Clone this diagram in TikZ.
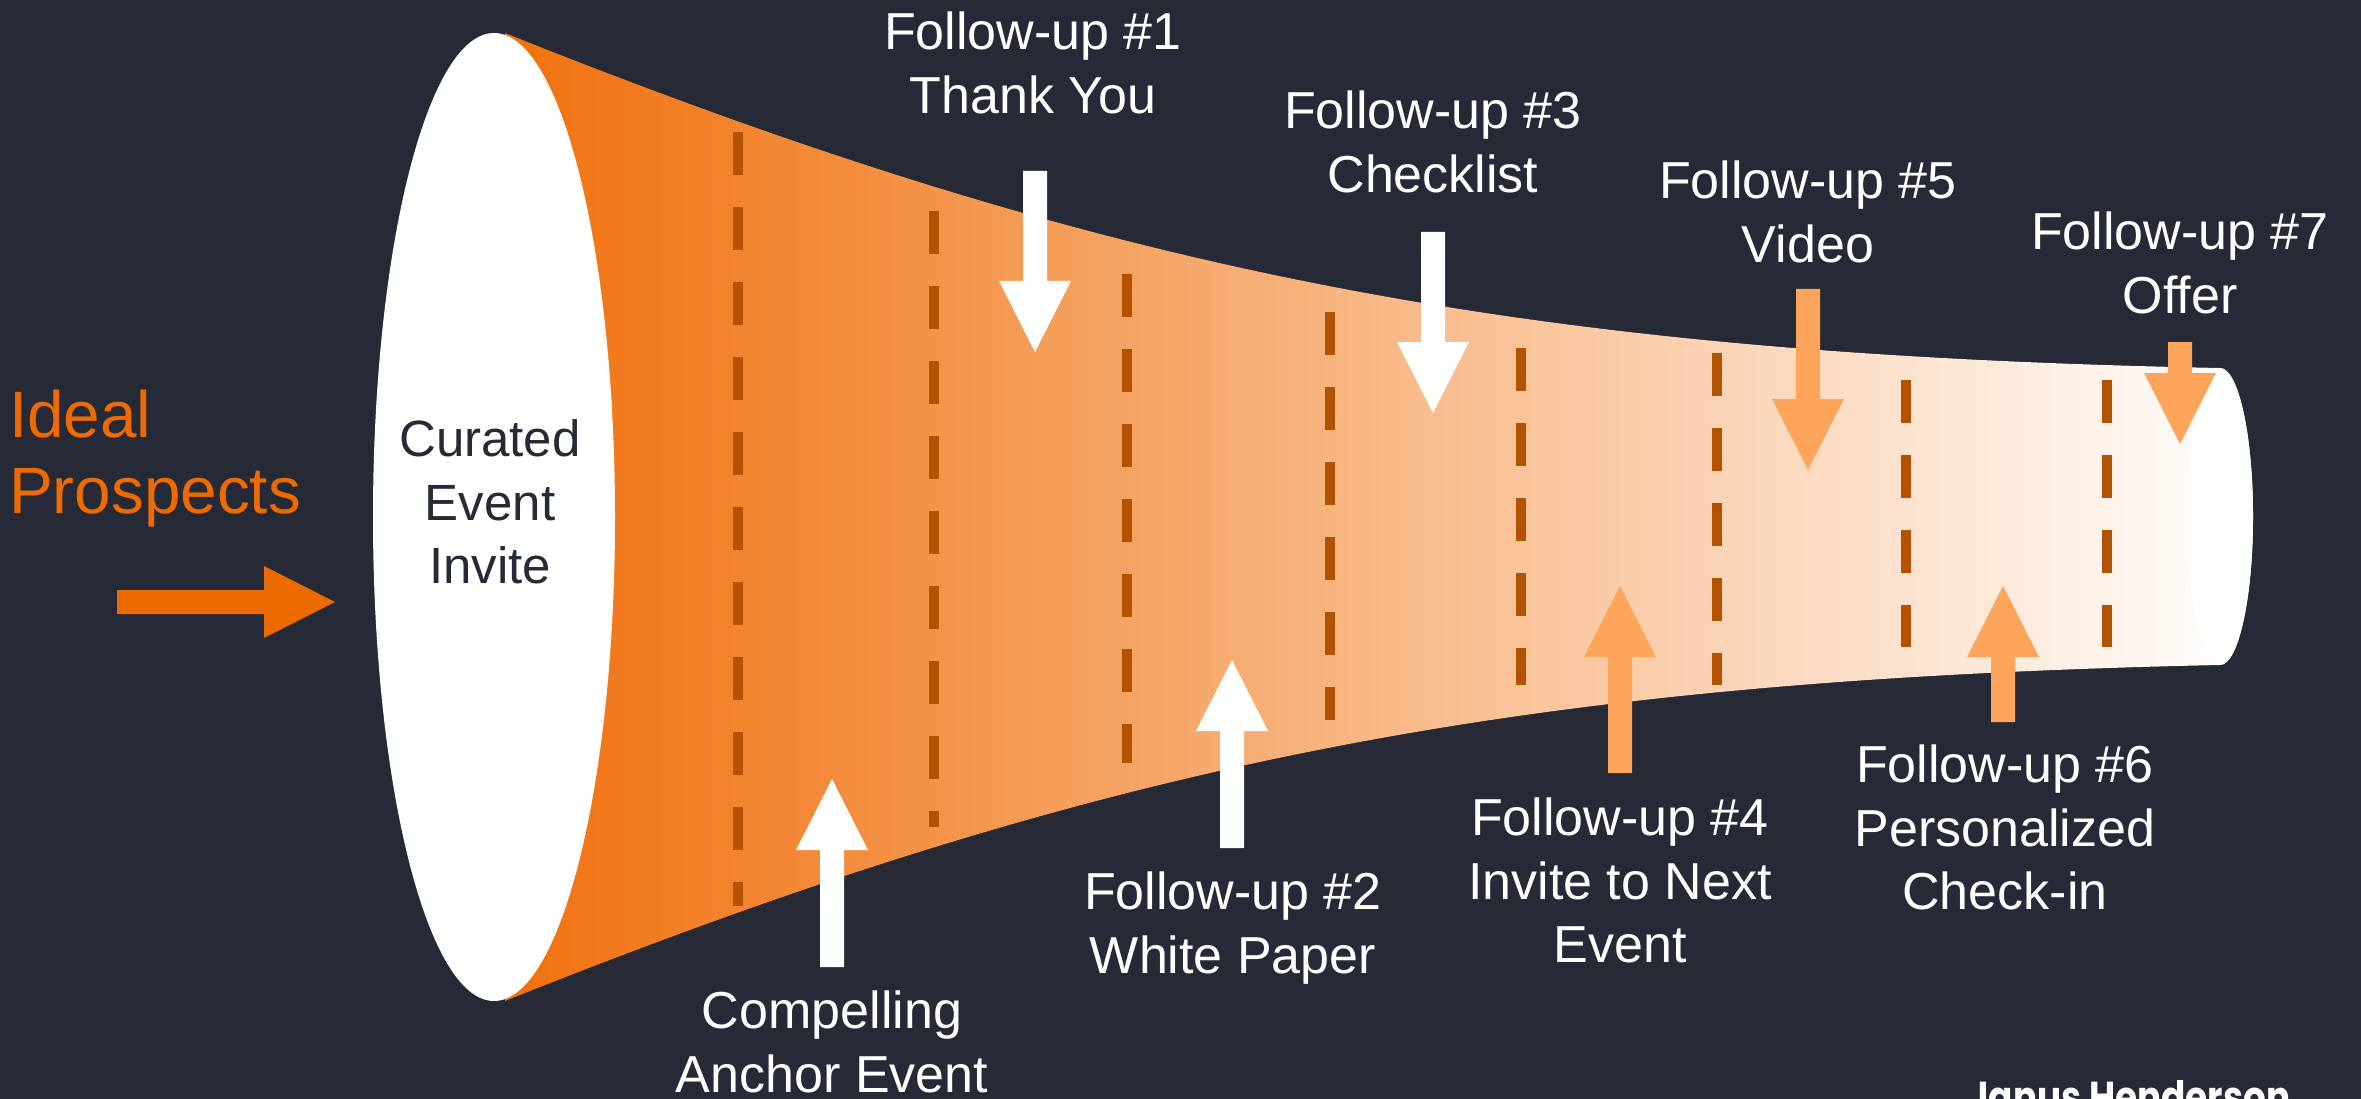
\documentclass[tikz,border=0pt]{standalone}
\usepackage{fontspec}
\usepackage{graphicx}
\setmainfont{Liberation Sans}
\newfontfamily\logofont{Poppins}
\usetikzlibrary{calc}

\definecolor{bgnavy}{RGB}{38,42,54}
\definecolor{brandorange}{RGB}{237,106,0}
\definecolor{funnelorange}{RGB}{240,113,14}
\definecolor{softorange}{RGB}{253,166,91}
\definecolor{dashbrown}{RGB}{179,82,0}

% Block arrow from a tail coordinate to a tip coordinate:
% shaft 24 wide, head 72 wide and 71 long.
\newcommand\blockarrow[3]{%
  \coordinate (arrowbase) at ($(#2)!71pt!(#1)$);
  \fill[#3] ($(#1)!12pt!90:(#2)$) -- ($(arrowbase)!12pt!90:(#2)$)
    -- ($(arrowbase)!36pt!90:(#2)$) -- (#2)
    -- ($(arrowbase)!36pt!-90:(#2)$) -- ($(arrowbase)!12pt!-90:(#2)$)
    -- ($(#1)!12pt!-90:(#2)$) -- cycle;}

\begin{document}
\begin{tikzpicture}[x=1pt,y=-1pt,
  lbl/.style={text=white, font=\fontsize{52}{63.5}\selectfont, align=center,
    inner sep=0pt, anchor=north},
  stage/.style={draw=dashbrown, line width=10.5pt, dash pattern=on 43pt off 32pt},
]
\useasboundingbox (0,0) rectangle (2361,1099);
\clip (0,0) rectangle (2361,1099);
\fill[bgnavy] (0,0) rectangle (2361,1099);

% funnel body, wide mouth on the left
\fill[left color=funnelorange, right color=white]
  (505,33) .. controls (1105,273) and (1520,354) .. (2220,368)
  arc[start angle=-90, end angle=90, x radius=33, y radius=148.5]
  .. controls (1520,680) and (1105,761) .. (505,1001) -- cycle;
\fill[white] (2220,516.5) ellipse[x radius=33, y radius=148.5];

% stage separators
\draw[stage] (738,132) -- (738,906);
\draw[stage] (934,211) -- (934,827);
\draw[stage] (1127,274) -- (1127,763);
\draw[stage] (1330,312) -- (1330,720);
\draw[stage] (1521,348) -- (1521,685);
\draw[stage] (1717,353) -- (1717,685);
\draw[stage] (1906,380) -- (1906,647);
\draw[stage] (2107,380) -- (2107,647);

% mouth of the funnel
\fill[white] (494,517) ellipse[x radius=121, y radius=484];
\node[text=bgnavy, font=\fontsize{51}{63.5}\selectfont, align=center,
  inner sep=0pt, anchor=north] (invite) at (490,419.5) {Curated\\Event\\Invite};

% entry
\node[text=brandorange, font=\fontsize{65.6}{76}\selectfont, align=left,
  inner sep=0pt, anchor=north west] (prospects) at (9,390) {Ideal\\Prospects};
\coordinate (intail) at (117,602);
\coordinate (intip) at (335,602);
\blockarrow{intail}{intip}{brandorange}

% touch points
\node[lbl] (fu1) at (1033,11.8) {Follow-up \#1\\Thank You};
\node[lbl] (fu3) at (1433,90.8) {Follow-up \#3\\Checklist};
\node[lbl] (fu5) at (1808,160.8) {Follow-up \#5\\Video};
\node[lbl] (fu7) at (2180,211.8) {Follow-up \#7\\Offer};
\node[lbl] (anchor) at (832,990.8) {Compelling\\Anchor Event};
\node[lbl] (fu2) at (1233,871.8) {Follow-up \#2\\White Paper};
\node[lbl] (fu4) at (1620,797.8) {Follow-up \#4\\Invite to Next\\Event};
\node[lbl] (fu6) at (2005,744.8) {Follow-up \#6\\Personalized\\Check-in};

\coordinate (a1t) at (1035,171);  \coordinate (a1h) at (1035,352);
\coordinate (a3t) at (1433,232);  \coordinate (a3h) at (1433,413);
\coordinate (a5t) at (1808,289);  \coordinate (a5h) at (1808,470);
\coordinate (a7t) at (2180,342);  \coordinate (a7h) at (2180,444);
\coordinate (a0t) at (832,967);   \coordinate (a0h) at (832,779);
\coordinate (a2t) at (1232,848);  \coordinate (a2h) at (1232,660);
\coordinate (a4t) at (1620,773);  \coordinate (a4h) at (1620,586);
\coordinate (a6t) at (2003,722);  \coordinate (a6h) at (2003,586);

\blockarrow{a1t}{a1h}{white}
\blockarrow{a3t}{a3h}{white}
\blockarrow{a0t}{a0h}{white}
\blockarrow{a2t}{a2h}{white}
\blockarrow{a5t}{a5h}{softorange}
\blockarrow{a7t}{a7h}{softorange}
\blockarrow{a4t}{a4h}{softorange}
\blockarrow{a6t}{a6h}{softorange}

% brand mark along the lower edge
\node[text=white, inner sep=0pt, anchor=north west] (brand) at (1968,1080)
  {\resizebox{322pt}{32pt}{\logofont\bfseries Janus Henderson}};
\end{tikzpicture}
\end{document}
